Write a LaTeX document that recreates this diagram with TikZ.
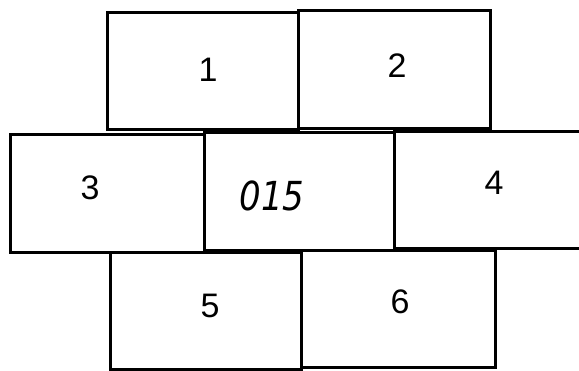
\documentclass[tikz,border=0pt]{standalone}
\usepackage{fontspec}
\setmainfont{Liberation Sans}
\newfontfamily\handfont{DejaVu Sans}
\begin{document}
\begin{tikzpicture}[x=1pt,y=-1pt,
  cell/.style={draw=black,line width=2.6pt,anchor=north west,inner sep=0pt},
  num/.style={font=\fontsize{34}{34}\selectfont,inner sep=0pt}]
\clip (0,0) rectangle (579,371);
\fill[white] (0,0) rectangle (579,371);
% top row
\node[cell,minimum width=191pt,minimum height=117pt] (b1) at (106,11) {};
\node[cell,minimum width=192pt,minimum height=118pt] (b2) at (297,9) {};
% middle row
\node[cell,minimum width=194pt,minimum height=118pt] (b3) at (9,133) {};
\node[cell,minimum width=190pt,minimum height=118pt] (bc) at (203,131) {};
\node[cell,minimum width=200pt,minimum height=117pt] (b4) at (393,130) {};
% bottom row
\node[cell,minimum width=191pt,minimum height=117pt] (b5) at (109,251) {};
\node[cell,minimum width=194pt,minimum height=117pt] (b6) at (300,249) {};
% labels
\node[num] (l1) at (208,70) {1};
\node[num] (l2) at (397,66) {2};
\node[num] (l3) at (90,188) {3};
\node[num] (l4) at (494,183) {4};
\node[num] (l5) at (210,306) {5};
\node[num] (l6) at (400,302) {6};
\node[font=\handfont\itshape\fontsize{40}{40}\selectfont,inner sep=0pt,xscale=0.85] (lc) at (272,196) {015};
\end{tikzpicture}
\end{document}
